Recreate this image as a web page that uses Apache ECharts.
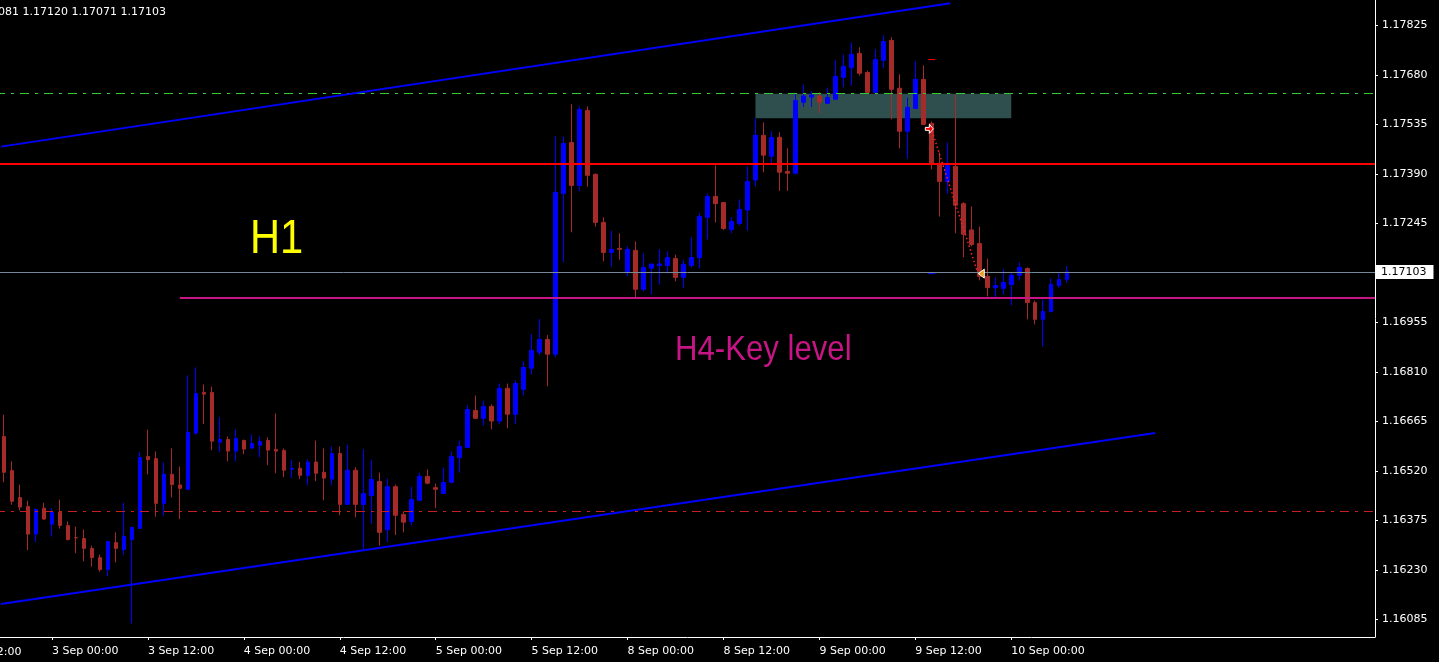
<!DOCTYPE html>
<html><head><meta charset="utf-8">
<script src="https://cdn.jsdelivr.net/npm/echarts@6/dist/echarts.min.js"></script>
<style>html,body{margin:0;padding:0;background:#000;overflow:hidden}#c{width:1439px;height:662px}</style>
</head><body><div id="c"></div>
<script>
// ---------- DATA ----------
const opens = [1.16621,1.16521,1.16442,1.16416,1.16335,1.16411,1.16364,1.16399,1.16360,1.16325,
1.16322,1.16293,1.16266,1.16231,1.16310,1.16290,1.16319,1.16352,1.16562,1.16556,
1.16425,1.16510,1.16479,1.16466,1.16631,1.16750,1.16750,1.16604,1.16612,1.16578,
1.16609,1.16587,1.16595,1.16609,1.16583,1.16580,1.16525,1.16528,1.16507,1.16546,
1.16516,1.16496,1.16571,1.16422,1.16522,1.16422,1.16448,1.16489,1.16348,1.16474,
1.16392,1.16372,1.16434,1.16504,1.16471,1.16454,1.16487,1.16559,1.16589,1.16697,
1.16674,1.16709,1.16666,1.16762,1.16686,1.16759,1.16821,1.16868,1.16905,1.16862,
1.17333,1.17482,1.17356,1.17576,1.17389,1.17248,1.17160,1.17172,1.17104,1.17166,
1.17052,1.17114,1.17122,1.17122,1.17142,1.17087,1.17122,1.17145,1.17263,1.17324,
1.17306,1.17227,1.17245,1.17284,1.17372,1.17503,1.17442,1.17497,1.17397,1.17392,
1.17600,1.17615,1.17618,1.17597,1.17609,1.17673,1.17701,1.17743,1.17687,1.17629,
1.17723,1.17781,1.17641,1.17515,1.17582,1.17667,1.17538,1.17418,1.17368,1.17412,
1.17303,1.17226,1.17186,1.17090,1.17057,1.17055,1.17066,1.17093,1.17113,1.17013,
1.16964,1.16987,1.17063,1.17081];
const highs = [1.16685,1.16548,1.16480,1.16433,1.16410,1.16427,1.16411,1.16436,1.16372,1.16357,
1.16348,1.16301,1.16275,1.16315,1.16340,1.16427,1.16357,1.16575,1.16641,1.16577,
1.16545,1.16586,1.16533,1.16800,1.16823,1.16773,1.16767,1.16677,1.16621,1.16641,
1.16612,1.16627,1.16621,1.16618,1.16688,1.16586,1.16553,1.16546,1.16553,1.16609,
1.16586,1.16592,1.16592,1.16597,1.16531,1.16583,1.16553,1.16515,1.16498,1.16480,
1.16401,1.16474,1.16515,1.16524,1.16483,1.16530,1.16577,1.16609,1.16712,1.16741,
1.16726,1.16715,1.16776,1.16776,1.16785,1.16841,1.16921,1.16965,1.16918,1.17500,
1.17500,1.17594,1.17588,1.17588,1.17391,1.17263,1.17224,1.17216,1.17178,1.17192,
1.17157,1.17127,1.17169,1.17163,1.17154,1.17139,1.17204,1.17274,1.17333,1.17415,
1.17307,1.17263,1.17315,1.17412,1.17553,1.17541,1.17515,1.17512,1.17465,1.17627,
1.17652,1.17632,1.17629,1.17643,1.17723,1.17740,1.17775,1.17761,1.17693,1.17755,
1.17796,1.17790,1.17682,1.17614,1.17720,1.17708,1.17544,1.17453,1.17482,1.17623,
1.17307,1.17295,1.17236,1.17142,1.17087,1.17110,1.17101,1.17131,1.17116,1.17019,
1.17022,1.17084,1.17101,1.17120];
const lows = [1.16487,1.16421,1.16404,1.16288,1.16311,1.16377,1.16328,1.16351,1.16316,1.16279,
1.16255,1.16240,1.16225,1.16211,1.16252,1.16275,1.16073,1.16350,1.16510,1.16386,
1.16389,1.16442,1.16379,1.16464,1.16625,1.16657,1.16581,1.16575,1.16548,1.16548,
1.16569,1.16584,1.16560,1.16537,1.16513,1.16502,1.16499,1.16496,1.16478,1.16490,
1.16434,1.16478,1.16390,1.16420,1.16384,1.16289,1.16365,1.16301,1.16311,1.16332,
1.16340,1.16361,1.16432,1.16481,1.16411,1.16452,1.16483,1.16515,1.16587,1.16672,
1.16653,1.16642,1.16657,1.16645,1.16657,1.16741,1.16803,1.16859,1.16768,1.16853,
1.17131,1.17219,1.17339,1.17353,1.17236,1.17134,1.17119,1.17139,1.17090,1.17028,
1.17046,1.17037,1.17066,1.17098,1.17075,1.17055,1.17116,1.17113,1.17198,1.17248,
1.17226,1.17216,1.17239,1.17224,1.17354,1.17395,1.17422,1.17340,1.17340,1.17389,
1.17586,1.17586,1.17568,1.17595,1.17607,1.17644,1.17648,1.17678,1.17626,1.17627,
1.17700,1.17550,1.17465,1.17435,1.17580,1.17533,1.17403,1.17265,1.17333,1.17216,
1.17145,1.17178,1.17078,1.17031,1.17028,1.17037,1.17005,1.17078,1.16964,1.16949,
1.16885,1.16984,1.17057,1.17071];
const closes = [1.16516,1.16431,1.16414,1.16335,1.16407,1.16379,1.16399,1.16360,1.16319,1.16324,
1.16293,1.16266,1.16231,1.16313,1.16293,1.16328,1.16354,1.16559,1.16553,1.16425,
1.16510,1.16480,1.16469,1.16633,1.16747,1.16745,1.16607,1.16612,1.16578,1.16615,
1.16584,1.16600,1.16606,1.16581,1.16578,1.16522,1.16528,1.16507,1.16546,1.16513,
1.16499,1.16571,1.16422,1.16522,1.16422,1.16454,1.16495,1.16340,1.16474,1.16390,
1.16370,1.16436,1.16504,1.16484,1.16466,1.16486,1.16562,1.16592,1.16700,1.16674,
1.16709,1.16666,1.16762,1.16686,1.16776,1.16823,1.16873,1.16905,1.16862,1.17336,
1.17479,1.17356,1.17579,1.17386,1.17248,1.17160,1.17169,1.17169,1.17169,1.17052,
1.17116,1.17126,1.17126,1.17145,1.17087,1.17125,1.17145,1.17265,1.17324,1.17303,
1.17230,1.17251,1.17286,1.17368,1.17503,1.17445,1.17497,1.17395,1.17392,1.17605,
1.17618,1.17621,1.17600,1.17614,1.17676,1.17705,1.17740,1.17685,1.17629,1.17725,
1.17778,1.17638,1.17515,1.17585,1.17667,1.17535,1.17418,1.17368,1.17415,1.17298,
1.17213,1.17183,1.17090,1.17057,1.17063,1.17072,1.17093,1.17116,1.17013,1.16964,
1.16987,1.17066,1.17081,1.17103];

// trading sessions (day label, first hour, last hour) for the hourly bars
const sessions = [['2 Sep',18,23],['3 Sep',0,23],['4 Sep',0,23],['5 Sep',0,23],['8 Sep',0,23],['9 Sep',0,23],['10 Sep',0,7]];
const emptyBarsRight = 38;

// price axis labels
const priceTicks = [1.17825,1.17680,1.17535,1.17390,1.17245,1.16955,1.16810,1.16665,1.16520,1.16375,1.16230,1.16085];
const currentPrice = 1.17103;
const priceMin = 1.160335, priceMax = 1.178995;

// drawn objects: [barIndexStart, priceStart, barIndexEnd, priceEnd]
const levelLines = [
  [-1, 1.17625, 172.5, 1.17625],   // green dash-dot
  [-1, 1.17418, 172.5, 1.17418],   // red level
  [-1, 1.17100, 172.5, 1.17100],   // bid line
  [22, 1.17028, 172.5, 1.17028],   // H4 key level
  [-1, 1.16400, 172.5, 1.16400]    // red dash-dot
];
const trendLines = [
  [-0.375, 1.17470, 118.375, 1.17890],
  [-0.375, 1.16130, 144, 1.16631]
];
const tradeLines = [
  [116.1, 1.17515, 121.75, 1.17104],
  [115.6, 1.17725, 116.5, 1.17725],
  [115.6, 1.17098, 116.5, 1.17098]
];
const zoneBox = [[94, 1.17625, 126, 1.17553]];
const tradeArrows = [[115.75, 1.17522], [122.25, 1.17098]];

// ---------- BUILD ----------
const cats = [];
sessions.forEach(s => { for (let h = s[1]; h <= s[2]; h++) cats.push(s[0] + ' ' + String(h).padStart(2,'0') + ':00'); });
const nBars = cats.length;
for (let i = 0; i < emptyBarsRight; i++) cats.push('f' + i);
const showLabel = (idx, val) => idx < nBars && /\s(00|12):00$/.test(val);

const levelStyles = [
  {stroke:'#32cd32', lineWidth:1, lineDash:[9,6,3,6]},
  {stroke:'#ff0000', lineWidth:2},
  {stroke:'#778899', lineWidth:1},
  {stroke:'#c71585', lineWidth:2},
  {stroke:'#c81e1e', lineWidth:1, lineDash:[9,6,3,6]}
];
const trendStyles = [{stroke:'#0000ff', lineWidth:2},{stroke:'#0000ff', lineWidth:2}];
const tradeStyles = [{stroke:'#ff2020', lineWidth:1.5, lineDash:[1.5,2.5]},{stroke:'#ff0000', lineWidth:1},{stroke:'#0000ff', lineWidth:1}];

// pixel position of a (fractional) bar index and price, through the chart's own axes
function toPx(api, v, p){
  const a = api.coord([0, p]);
  const b = api.coord([1, p]);
  return [a[0] + v * (b[0] - a[0]), a[1]];
}
function segRenderer(styles, snap){
  return function(params, api){
    const st = styles[params.dataIndex];
    const a = toPx(api, api.value(0), api.value(1));
    const b = toPx(api, api.value(2), api.value(3));
    if (snap) {
      const y = st.lineWidth === 2 ? Math.round(a[1]) : Math.floor(a[1]) + 0.5;
      a[1] = y; b[1] = y;
    }
    return {type:'line', shape:{x1:a[0],y1:a[1],x2:b[0],y2:b[1]}, style:Object.assign({fill:null}, st)};
  };
}

const chart = echarts.init(document.getElementById('c'), null, {renderer:'canvas'});
const fontAxis = 'DejaVu Sans';
chart.setOption({
  backgroundColor:'#000',
  animation:false,
  grid:{left:-1, top:0, width:1376, height:637},
  xAxis:{type:'category', data:cats, boundaryGap:true,
    axisLine:{show:true, lineStyle:{color:'#fff', width:1}},
    axisTick:{show:true, alignWithLabel:true, interval:showLabel, length:3, lineStyle:{color:'#fff'}},
    axisLabel:{interval:showLabel, color:'#fff', fontFamily:fontAxis, fontSize:11, align:'left', margin:9},
    splitLine:{show:false}},
  yAxis:[
    {type:'value', position:'right', min:priceMin, max:priceMax,
     axisLine:{show:true, lineStyle:{color:'#fff'}},
     axisTick:{show:true, customValues:priceTicks, length:3, lineStyle:{color:'#fff'}},
     axisLabel:{customValues:priceTicks, formatter:v=>v.toFixed(5), color:'#fff', fontFamily:fontAxis, fontSize:11, margin:7},
     splitLine:{show:false}},
    {type:'value', position:'right', min:priceMin, max:priceMax,
     axisLine:{show:false}, axisTick:{show:false}, splitLine:{show:false},
     axisLabel:{customValues:[currentPrice], formatter:v=>v.toFixed(5), color:'#000', backgroundColor:'#fff',
       padding:[2,7,1,5], fontFamily:fontAxis, fontSize:11, margin:1}}
  ],
  series:[
    {type:'custom', z:1, clip:true, silent:true, data:zoneBox,
     renderItem:function(params, api){
       const a = toPx(api, api.value(0), api.value(1));
       const b = toPx(api, api.value(2), api.value(3));
       return {type:'rect', shape:{x:a[0], y:a[1], width:b[0]-a[0], height:b[1]-a[1]}, style:{fill:'#2f4f4f'}};
     }},
    {type:'candlestick', z:2, silent:true, barWidth:4,
     data:opens.map((o,i)=>[o, closes[i], lows[i], highs[i]]),
     itemStyle:{color:'#0000ff', color0:'#a52a2a', borderColor:'#0000ff', borderColor0:'#a52a2a', borderWidth:1}},
    {type:'custom', z:3, clip:true, silent:true, data:levelLines, renderItem:segRenderer(levelStyles, true)},
    {type:'custom', z:4, clip:true, silent:true, data:trendLines, renderItem:segRenderer(trendStyles, false)},
    {type:'custom', z:5, clip:true, silent:true, data:tradeLines, renderItem:segRenderer(tradeStyles, false)},
    {type:'custom', z:6, clip:true, silent:true, data:tradeArrows,
     renderItem:function(params, api){
       const p = toPx(api, api.value(0), api.value(1));
       if (params.dataIndex === 0) {
         return {type:'polygon', shape:{points:[[p[0]-4,p[1]-1.5],[p[0],p[1]-1.5],[p[0],p[1]-4.5],[p[0]+4,p[1]],[p[0],p[1]+4.5],[p[0],p[1]+1.5],[p[0]-4,p[1]+1.5]]},
           style:{fill:'#ff0000', stroke:'#ffffff', lineWidth:1}};
       }
       return {type:'polygon', shape:{points:[[p[0]+3,p[1]-4.5],[p[0]+3,p[1]+4.5],[p[0]-3,p[1]]]},
         style:{fill:'#e8a020', stroke:'#ffffff', lineWidth:1}};
     }}
  ],
  graphic:[
    {type:'text', x:-26.5, y:12.5, style:{text:'1.17081 1.17120 1.17071 1.17103', fill:'#fff', font:'11px "DejaVu Sans"', verticalAlign:'middle'}},
    {type:'text', x:-45, y:652, style:{text:'2 Sep 12:00', fill:'#fff', font:'11px "DejaVu Sans"', verticalAlign:'middle'}},
    {type:'text', x:250, y:239, scaleX:0.85, style:{text:'H1', fill:'#ffff00', font:'49px "Liberation Sans"', verticalAlign:'middle'}},
    {type:'text', x:675, y:350, scaleX:0.89, style:{text:'H4-Key level', fill:'#c71585', font:'35px "Liberation Sans"', verticalAlign:'middle'}}
  ]
});
</script></body></html>
